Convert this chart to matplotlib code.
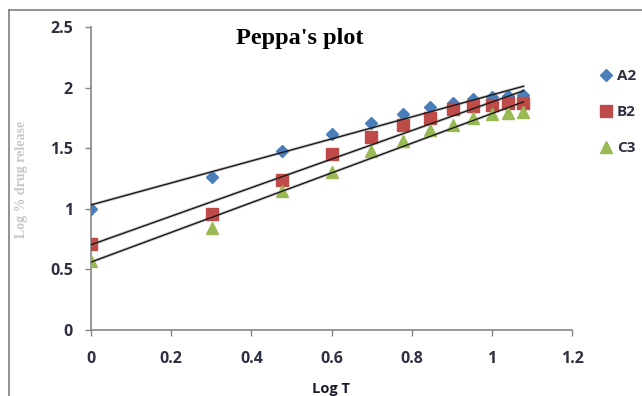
import numpy as np
import matplotlib.pyplot as plt
from matplotlib.lines import Line2D

# log of time (hours 1..12)
log_t = [0, 0.301, 0.477, 0.602, 0.699, 0.778, 0.845, 0.903, 0.954, 1.0, 1.041, 1.079]

# log % drug release for each formulation
a2 = [1.00, 1.26, 1.48, 1.62, 1.71, 1.78, 1.84, 1.87, 1.91, 1.92, 1.93, 1.94]
b2 = [0.71, 0.96, 1.24, 1.45, 1.59, 1.69, 1.75, 1.82, 1.85, 1.86, 1.87, 1.87]
c3 = [0.57, 0.84, 1.15, 1.30, 1.48, 1.56, 1.65, 1.69, 1.75, 1.78, 1.79, 1.80]

names = ["A2", "B2", "C3"]
series = [a2, b2, c3]
markers = ["D", "s", "^"]
colors = ["#4a7ebb", "#be4b48", "#98b954"]
sizes = [6, 8, 8]

fig = plt.figure(figsize=(6.42, 3.96), dpi=100)
ax = fig.add_axes([91 / 642, 1 - 330 / 396, 481 / 642, 303 / 396])

x = np.array(log_t)
for name, y, m, c, s in zip(names, series, markers, colors, sizes):
    ax.plot(x, y, linestyle="none", marker=m, color=c, markersize=s, label=name, zorder=3)
    # linear trendline like Excel
    k, b = np.polyfit(x, y, 1)
    xx = np.array([x.min(), x.max()])
    ax.plot(xx, k * xx + b, color="#9a9a9a", lw=2.2, alpha=0.5, zorder=2)
    ax.plot(xx, k * xx + b, color="#1a1a1a", lw=1.0, zorder=4)

ax.set_xlim(0, 1.2)
ax.set_ylim(0, 2.5)
ax.set_xticks(np.arange(0, 1.21, 0.2))
ax.set_yticks(np.arange(0, 2.51, 0.5))
ax.set_xticklabels(["0", "0.2", "0.4", "0.6", "0.8", "1", "1.2"])
ax.set_yticklabels(["0", "0.5", "1", "1.5", "2", "2.5"])

for side in ["top", "right"]:
    ax.spines[side].set_visible(False)
for side in ["left", "bottom"]:
    ax.spines[side].set_color("#868686")
    ax.spines[side].set_linewidth(1.2)

ax.tick_params(axis="both", colors="#868686", length=4, width=1)
ax.tick_params(axis="x", pad=11)
ax.tick_params(axis="y", pad=9)
for lab in ax.get_xticklabels() + ax.get_yticklabels():
    lab.set_color("#2e3040")
    lab.set_fontweight("bold")
    lab.set_fontsize(11.5)
    lab.set_family("Open Sans")

ax.set_title("Peppa's plot", family="Liberation Serif", fontweight="bold", fontsize=17.5,
             x=0.435, y=0.915, color="black")
fig.text(331 / 642, 1 - 389 / 396, "Log T", ha="center", va="center",
         fontsize=10.5, fontweight="bold", family="Open Sans", color="#1a1a2a")
fig.text(22 / 642, 1 - 179 / 396, "Log % drug release", ha="center", va="center",
         rotation=90, fontsize=10, fontweight="bold", family="Liberation Serif", color="#c8c8c8")

# chart frame (left and top edges visible)
fig.add_artist(Line2D([9 / 642, 9 / 642], [0, 1 - 10 / 396], transform=fig.transFigure,
                      color="#7f7f7f", lw=1.2))
fig.add_artist(Line2D([9 / 642, 1], [1 - 10 / 396, 1 - 10 / 396], transform=fig.transFigure,
                      color="#7f7f7f", lw=1.2))

ax.legend(loc="upper left", bbox_to_anchor=(600 / 642, 1 - 69 / 396),
          bbox_transform=fig.transFigure, frameon=False,
          prop={"family": "Open Sans", "weight": "bold", "size": 11},
          labelspacing=1.45, handlelength=0.8, handletextpad=0.3, borderaxespad=0,
          borderpad=0)
leg = ax.get_legend()
for t in leg.get_texts():
    t.set_color("#2e3040")

fig.savefig("out.png", dpi=100)
